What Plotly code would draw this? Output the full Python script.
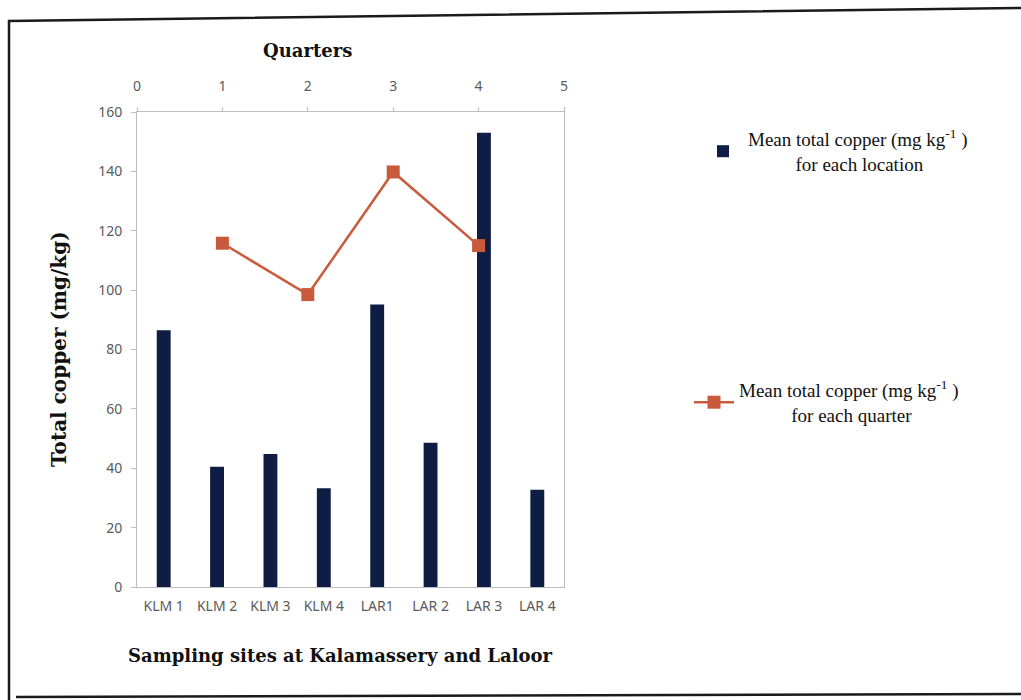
import plotly.graph_objects as go

# Sampling sites and mean total copper per site (mg/kg)
sites = ["KLM 1", "KLM 2", "KLM 3", "KLM 4", "LAR1", "LAR 2", "LAR 3", "LAR 4"]
site_copper = [86.5, 40.5, 44.8, 33.3, 95.2, 48.6, 153.0, 32.8]

# Quarterly mean total copper (mg/kg)
quarters = [1, 2, 3, 4]
quarter_copper = [115.8, 98.5, 139.8, 115.0]

# Axis tick values
y_ticks = [0, 20, 40, 60, 80, 100, 120, 140, 160]
quarter_ticks = [0, 1, 2, 3, 4, 5]

W, H = 1021, 700
L, R, T, B = 137, 457, 112, 113
PW, PH = W - L - R, H - T - B


def px(x):
    return (x - L) / PW


def py(y):
    return (H - B - y) / PH


NB = "&nbsp;"
BAR_COLOR = "#0f1d45"
LINE_COLOR = "#c95a3c"
AXIS_COLOR = "#bdbdbd"
TICK_FONT = dict(family="Noto Sans, Open Sans, sans-serif", size=14, color="#5a5a5a")
SERIF = "Liberation Serif, Times New Roman, serif"
TITLE_FONT = dict(family="DejaVu Serif, serif", size=18, color="#111111")

fig = go.Figure()

fig.add_trace(go.Bar(
    x=sites, y=site_copper,
    marker=dict(color=BAR_COLOR, line=dict(width=0)),
    name="Mean total copper (mg kg<sup>-1</sup> )<br>" + NB * 10 + "for each location",
    legend="legend",
    xaxis="x", yaxis="y",
))

fig.add_trace(go.Scatter(
    x=quarters, y=quarter_copper,
    mode="lines+markers",
    line=dict(color=LINE_COLOR, width=2.5),
    marker=dict(symbol="square", size=13, color=LINE_COLOR),
    name="Mean total copper (mg kg<sup>-1</sup> )<br>" + NB * 11 + "for each quarter",
    legend="legend2",
    xaxis="x2", yaxis="y",
))

fig.update_layout(
    width=W, height=H,
    margin=dict(l=L, r=R, t=T, b=B),
    paper_bgcolor="white",
    plot_bgcolor="white",
    bargap=0.74,
    xaxis=dict(
        type="category",
        showline=True, linecolor=AXIS_COLOR, linewidth=1,
        showgrid=False, ticks="", tickfont=TICK_FONT,
        ticklabelstandoff=6, zeroline=False,
    ),
    xaxis2=dict(
        overlaying="x", side="top", anchor="y",
        range=[0, 5], tickvals=quarter_ticks,
        showline=True, linecolor=AXIS_COLOR, linewidth=1,
        showgrid=False, ticks="outside", ticklen=4, tickcolor=AXIS_COLOR,
        tickfont=TICK_FONT, ticklabelstandoff=10, zeroline=False,
    ),
    yaxis=dict(
        range=[0, 160], tickvals=y_ticks,
        showline=True, linecolor=AXIS_COLOR, linewidth=1, mirror=True,
        showgrid=False, ticks="outside", ticklen=5, tickcolor=AXIS_COLOR,
        tickfont=TICK_FONT, ticklabelstandoff=6, zeroline=False,
    ),
    legend=dict(
        x=px(698), y=py(120), xanchor="left", yanchor="top",
        bgcolor="rgba(0,0,0,0)",
        font=dict(family=SERIF, size=19, color="#111111"),
        itemwidth=40,
    ),
    legend2=dict(
        x=px(689), y=py(371), xanchor="left", yanchor="top",
        bgcolor="rgba(0,0,0,0)",
        font=dict(family=SERIF, size=19, color="#111111"),
        itemwidth=40,
    ),
    showlegend=True,
)

# Axis titles
fig.add_annotation(
    text="<b>Quarters</b>", x=px(307), y=py(38), xref="paper", yref="paper",
    showarrow=False, font=TITLE_FONT,
)
fig.add_annotation(
    text="<b>Sampling sites at Kalamassery and Laloor</b>", x=px(340), y=py(668),
    xref="paper", yref="paper", showarrow=False, font=TITLE_FONT,
)
fig.add_annotation(
    text="<b>Total copper (mg/kg)</b>", x=px(45), y=py(349), xref="paper", yref="paper",
    textangle=-90, showarrow=False, font=dict(TITLE_FONT, size=20),
)

# Outer frame around the figure
fig.add_shape(
    type="path", xref="paper", yref="paper",
    path=(f"M {px(9)},{py(705)} L {px(9)},{py(21)} L {px(1021)},{py(8)} "
          f"M {px(1021)},{py(694)} L {px(16)},{py(697)}"),
    line=dict(color="#1a1a1a", width=2.5),
)

fig.write_html("out.html")
